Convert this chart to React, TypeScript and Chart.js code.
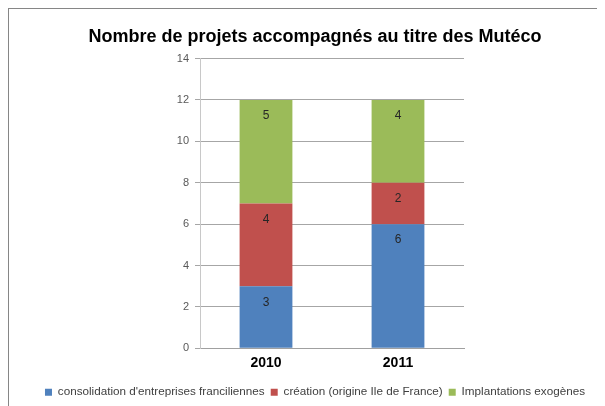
import React, { useEffect, useRef } from "react";
import { Chart, registerables } from "chart.js";

Chart.register(...registerables);

const categories = ["2010", "2011"];
const seriesNames = [
  "consolidation d'entreprises franciliennes",
  "création (origine Ile de France)",
  "Implantations exogènes",
];
const consolidation = [3, 6];
const creation = [4, 2];
const implantations = [5, 4];
const seriesColors = ["#4F81BD", "#C0504D", "#9BBB59"];
const yMin = 0;
const yMax = 14;
const yStep = 2;

const SANS = "'Liberation Sans', Arial, sans-serif";

const dataLabels = {
  id: "dataLabels",
  afterDatasetsDraw(chart: any) {
    const ctx = chart.ctx;
    ctx.save();
    ctx.font = `12px ${SANS}`;
    ctx.fillStyle = "#262626";
    ctx.textAlign = "center";
    ctx.textBaseline = "middle";
    chart.data.datasets.forEach((ds: any, i: number) => {
      const meta = chart.getDatasetMeta(i);
      meta.data.forEach((el: any, j: number) => {
        ctx.fillText(String(ds.data[j]), el.x, el.y + 16);
      });
    });
    ctx.restore();
  },
};

export default function App() {
  const ref = useRef<HTMLCanvasElement>(null);
  useEffect(() => {
    if (!ref.current) return;
    const values = [consolidation, creation, implantations];
    const chart = new Chart(ref.current, {
      type: "bar",
      data: {
        labels: categories,
        datasets: seriesNames.map((name, i) => ({
          label: name,
          data: values[i],
          backgroundColor: seriesColors[i],
          borderWidth: 0,
          barPercentage: 0.4,
          categoryPercentage: 1,
          yAxisID: "y",
        })),
      },
      options: {
        animation: false,
        responsive: false,
        maintainAspectRatio: false,
        layout: { padding: 0 },
        plugins: {
          tooltip: { enabled: false },
          title: {
            display: true,
            text: "Nombre de projets accompagnés au titre des Mutéco",
            font: { family: SANS, size: 18, weight: "bold" },
            color: "#000000",
            padding: { top: 17, bottom: 11 },
          },
          legend: {
            position: "bottom",
            labels: {
              boxWidth: 7,
              boxHeight: 7,
              padding: 6,
              font: { family: SANS, size: 11.7 },
              color: "#404040",
            },
          },
        },
        scales: {
          x: {
            stacked: true,
            grid: { display: false, drawTicks: false },
            border: { display: true, color: "#a0a0a0" },
            ticks: {
              font: { family: SANS, size: 14, weight: "bold" },
              color: "#000000",
              padding: 6,
            },
            afterFit: (s: any) => {
              s.height = 32;
            },
          },
          y: {
            stacked: true,
            position: "left",
            min: yMin,
            max: yMax,
            ticks: {
              stepSize: yStep,
              font: { family: SANS, size: 11 },
              color: "#595959",
              padding: 6,
            },
            grid: { color: "#a6a6a6", tickLength: 5, tickColor: "#a6a6a6" },
            border: { display: true, color: "#c8c8c8" },
            afterFit: (s: any) => {
              s.width = 191;
            },
          },
          yR: {
            position: "right",
            display: true,
            grid: { display: false, drawTicks: false },
            border: { display: false },
            ticks: { display: false },
            afterFit: (s: any) => {
              s.width = 157;
            },
          },
        },
      },
      plugins: [dataLabels],
    });
    return () => chart.destroy();
  }, []);
  return (
    <div
      style={{
        width: 597,
        height: 398,
        boxSizing: "border-box",
        borderLeft: "1px solid #868686",
        borderTop: "1px solid #868686",
        overflow: "hidden",
        background: "#ffffff",
      }}
    >
      <canvas ref={ref} width={612} height={399} style={{ display: "block", width: 612, height: 399 }} />
    </div>
  );
}
